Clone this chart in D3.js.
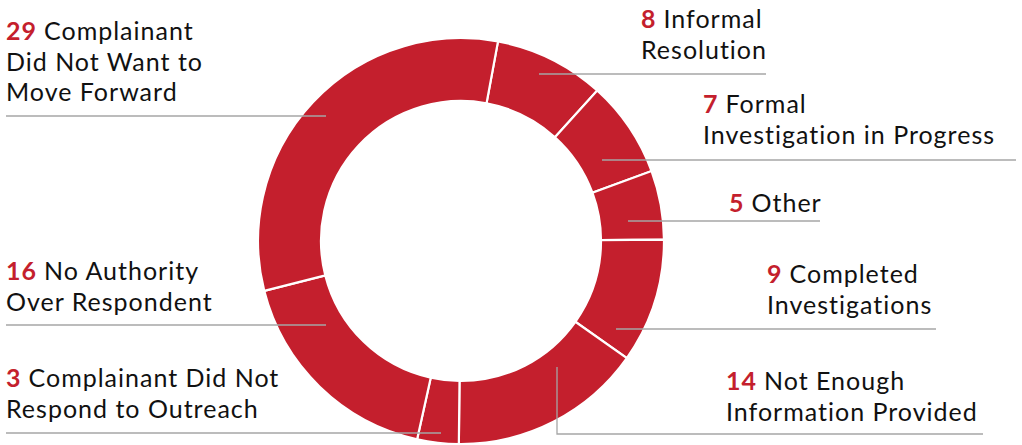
<!DOCTYPE html>
<html><head><meta charset="utf-8">
<script src="https://cdn.jsdelivr.net/npm/d3@7/dist/d3.min.js"></script>
<style>
html,body{margin:0;padding:0;background:#fff;}
svg{display:block;}
text{font-family:Lato,sans-serif;font-size:25px;letter-spacing:1px;fill:#111;}
</style></head>
<body>
<svg id="chart" width="1022" height="445"></svg>
<script>
// ---- data ----
const categories = ["Informal Resolution","Formal Investigation in Progress","Other","Completed Investigations","Not Enough Information Provided","Complainant Did Not Respond to Outreach","No Authority Over Respondent","Complainant Did Not Want to Move Forward"];
const values = [8, 7, 5, 9, 14, 3, 16, 29];
const labelLines = [
  ["Informal","Resolution"],
  ["Formal","Investigation in Progress"],
  ["Other"],
  ["Completed","Investigations"],
  ["Not Enough","Information Provided"],
  ["Complainant Did Not","Respond to Outreach"],
  ["No Authority","Over Respondent"],
  ["Complainant","Did Not Want to","Move Forward"]
];
// ---- layout (positions of label blocks & leader lines) ----
const layout = [
  {tx:641, ty:28,  lineY:74,  x1:539, x2:766},
  {tx:703, ty:113, lineY:160, x1:602, x2:1016},
  {tx:729, ty:212, lineY:221, x1:628, x2:820},
  {tx:767, ty:283, lineY:329, x1:616, x2:936},
  {tx:726, ty:390, lineY:434, x1:983, x2:983, vx:557, vy:367},
  {tx:6,   ty:387, lineY:433, x1:6,   x2:441},
  {tx:6,   ty:280, lineY:325, x1:6,   x2:326},
  {tx:6,   ty:40,  lineY:116, x1:6,   x2:326}
];
const red = "#c41f2d";
const svg = d3.select("#chart");
const cx = 461, cy = 241, rOuter = 203, rInner = 140;
const startOffset = 10.5 * Math.PI / 180;

const pie = d3.pie().sort(null).value(d => d)
  .startAngle(startOffset).endAngle(startOffset + 2*Math.PI);
const arc = d3.arc().innerRadius(rInner).outerRadius(rOuter);

const g = svg.append("g").attr("transform", `translate(${cx},${cy})`);
g.selectAll("path").data(pie(values)).join("path")
  .attr("d", arc).attr("fill", red)
  .attr("stroke", "#fff").attr("stroke-width", 2.2);

// leader lines
const lineColor = "#a6a6a6";
layout.forEach((L, i) => {
  if (L.vx !== undefined) {
    svg.append("polyline")
      .attr("points", `${L.vx},${L.vy} ${L.vx},${L.lineY} ${L.x2},${L.lineY}`)
      .attr("fill","none").attr("stroke", lineColor).attr("stroke-width", 1.3);
  } else {
    svg.append("line").attr("x1", L.x1).attr("x2", L.x2)
      .attr("y1", L.lineY).attr("y2", L.lineY)
      .attr("stroke", lineColor).attr("stroke-width", 1.3);
  }
});

// labels
const lineH = 30.5;
labelLines.forEach((lines, i) => {
  const L = layout[i];
  lines.forEach((ln, j) => {
    const y = L.ty + j*lineH;
    if (j === 0) {
      const num = svg.append("text").attr("x", L.tx).attr("y", y)
        .style("font-weight", 700).style("fill", red).text(values[i]);
      const w = num.node().getComputedTextLength();
      svg.append("text").attr("x", L.tx + w + 7).attr("y", y).text(ln);
    } else {
      svg.append("text").attr("x", L.tx).attr("y", y).text(ln);
    }
  });
});
</script>
</body></html>
